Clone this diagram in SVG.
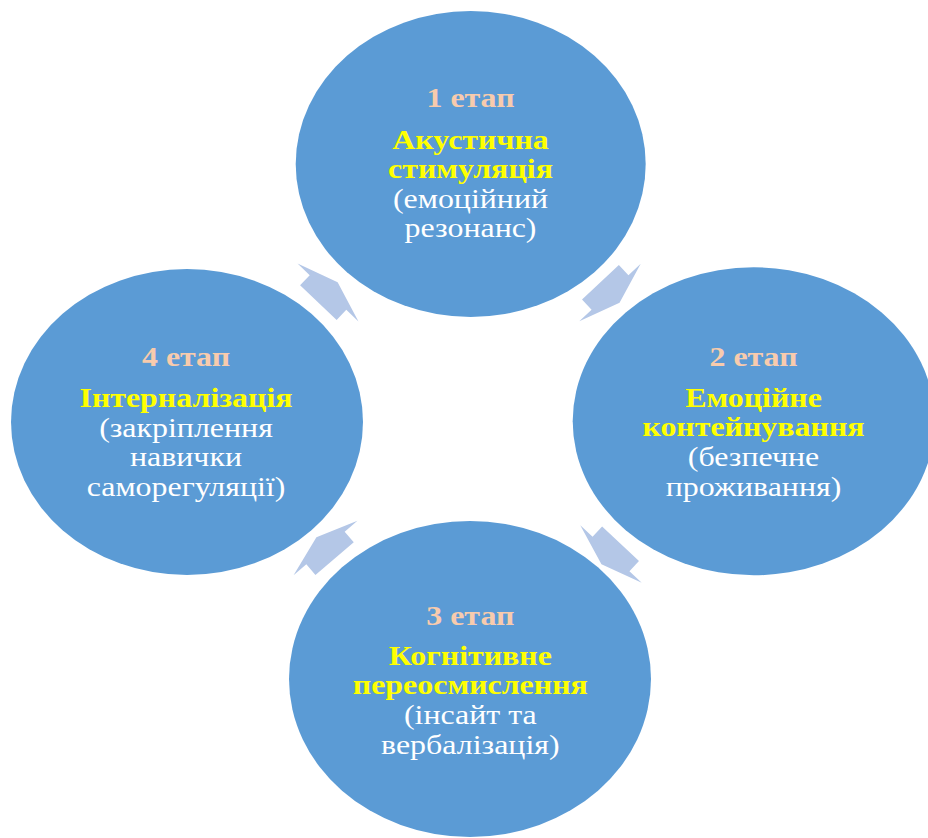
<svg xmlns="http://www.w3.org/2000/svg" xmlns:xlink="http://www.w3.org/1999/xlink" width="928" height="838" viewBox="0 0 928 838">
  <style>
    .stage { fill: #5B9BD5; }
    .arrow { fill: #B4C7E7; }
    text { font-family: "Liberation Serif", "Times New Roman", serif; font-size: 28px; text-anchor: middle; }
    .hd { font-weight: bold; fill: #F8CBAD; }
    .tl { font-weight: bold; fill: #FFFF00; }
    .sb { fill: #FFFFFF; }
  </style>
  <defs>
    <!-- block arrow, centred on the origin, pointing along +x -->
    <path id="cycleArrow" d="M-14,-25.2 L0,-25.2 L0,-42 L14,0 L0,42 L0,25.2 L-14,25.2 Z"/>
  </defs>
  <rect width="928" height="838" fill="#FFFFFF"/>

  <!-- connectors between the stages -->
  <g id="connectors" class="arrow">
    <use xlink:href="#cycleArrow" transform="translate(328,292.5) rotate(-46.5)"/>
    <use xlink:href="#cycleArrow" transform="translate(610,292.5) rotate(47)"/>
    <use xlink:href="#cycleArrow" transform="translate(611,554) rotate(133)"/>
    <use xlink:href="#cycleArrow" transform="translate(325.5,548) rotate(-130.5)"/>
  </g>

  <g id="stage1">
    <ellipse class="stage" cx="470.7" cy="164" rx="175" ry="153"/>
    <g transform="translate(470.5,0) scale(1.14,1)">
      <text class="hd" x="0" y="107">1 етап</text>
      <text class="tl" x="0" y="149">Акустична</text>
      <text class="tl" x="0" y="178">стимуляція</text>
      <text class="sb" x="0" y="208">(емоційний</text>
      <text class="sb" x="0" y="237.5">резонанс)</text>
    </g>
  </g>

  <g id="stage2">
    <ellipse class="stage" cx="753.7" cy="421.3" rx="181" ry="154"/>
    <g transform="translate(753.5,0) scale(1.14,1)">
      <text class="hd" x="0" y="366">2 етап</text>
      <text class="tl" x="0" y="407">Емоційне</text>
      <text class="tl" x="0" y="436">контейнування</text>
      <text class="sb" x="0" y="466">(безпечне</text>
      <text class="sb" x="0" y="496">проживання)</text>
    </g>
  </g>

  <g id="stage3">
    <ellipse class="stage" cx="470" cy="679" rx="181" ry="158"/>
    <g transform="translate(470.3,0) scale(1.14,1)">
      <text class="hd" x="0" y="625">3 етап</text>
      <text class="tl" x="0" y="665">Когнітивне</text>
      <text class="tl" x="0" y="694">переосмислення</text>
      <text class="sb" x="0" y="724">(інсайт та</text>
      <text class="sb" x="0" y="754">вербалізація)</text>
    </g>
  </g>

  <g id="stage4">
    <ellipse class="stage" cx="187" cy="422" rx="176" ry="153"/>
    <g transform="translate(186,0) scale(1.14,1)">
      <text class="hd" x="0" y="366">4 етап</text>
      <text class="tl" x="0" y="407">Інтерналізація</text>
      <text class="sb" x="0" y="437">(закріплення</text>
      <text class="sb" x="0" y="466">навички</text>
      <text class="sb" x="0" y="496">саморегуляції)</text>
    </g>
  </g>
</svg>
